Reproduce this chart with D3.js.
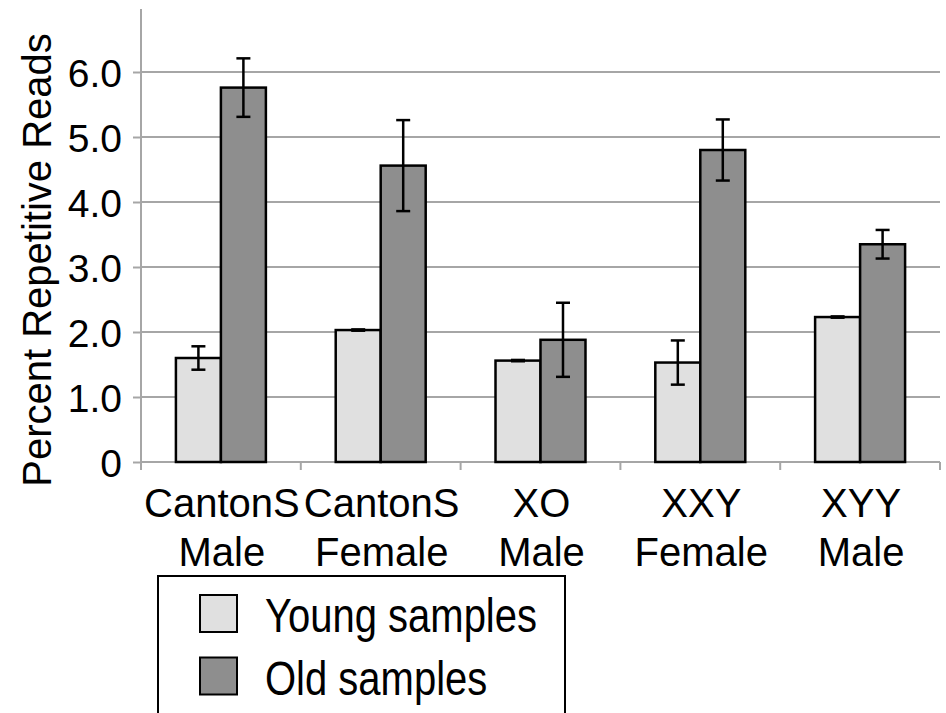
<!DOCTYPE html>
<html>
<head>
<meta charset="utf-8">
<script src="https://cdn.jsdelivr.net/npm/d3@7"></script>
<style>
  html, body { margin: 0; padding: 0; background: #fff; }
  svg { display: block; font-family: "Liberation Sans", Arial, Helvetica, sans-serif; }
</style>
</head>
<body>
<svg id="chart" width="946" height="713"></svg>
<script>
// ---- data ----
const categoryLine1 = ["CantonS", "CantonS", "XO", "XXY", "XYY"];
const categoryLine2 = ["Male", "Female", "Male", "Female", "Male"];
const seriesNames = ["Young samples", "Old samples"];
const youngValues = [1.60, 2.03, 1.56, 1.53, 2.23];
const youngErrors = [0.18, 0.01, 0.01, 0.34, 0.01];
const oldValues = [5.76, 4.56, 1.88, 4.80, 3.35];
const oldErrors = [0.45, 0.70, 0.57, 0.47, 0.22];
const yTickValues = [0, 1, 2, 3, 4, 5, 6];
const yTickLabels = ["0", "1.0", "2.0", "3.0", "4.0", "5.0", "6.0"];
const yTitle = "Percent Repetitive Reads";

// ---- styles ----
const colors = ["#e0e0e0", "#8e8e8e"];
const gridColor = "#a6a6a6";

const svg = d3.select("#chart");
const left = 141, right = 940, bottom = 462;

const x = d3.scaleBand().domain(d3.range(categoryLine1.length)).range([left, right]).paddingInner(0).paddingOuter(0);
const xs = d3.scaleBand().domain([0, 1]).range([0, x.bandwidth()]).paddingInner(0).paddingOuter(0.776);
const y = d3.scaleLinear().domain([0, 7]).range([bottom, 7]);

// y ticks + labels
const gAxis = svg.append("g").attr("transform", `translate(${left},0)`)
  .call(d3.axisLeft(y).tickValues(yTickValues).tickSize(8).tickFormat((d, i) => yTickLabels[i]).tickPadding(11));
gAxis.select(".domain").remove();
gAxis.selectAll(".tick line").attr("stroke", gridColor).attr("stroke-width", 2);
gAxis.selectAll(".tick text").attr("font-size", 39).attr("fill", "#000")
  .attr("font-family", "'Liberation Sans', Arial, sans-serif").attr("dy", "0.36em");

// gridlines
svg.append("g").selectAll("line").data(yTickValues).join("line")
  .attr("x1", left).attr("x2", right)
  .attr("y1", d => y(d)).attr("y2", d => y(d))
  .attr("stroke", gridColor).attr("stroke-width", 2);

// y axis line
svg.append("line").attr("x1", left).attr("x2", left).attr("y1", y(7) + 2).attr("y2", bottom + 7)
  .attr("stroke", gridColor).attr("stroke-width", 2);

// x axis category boundary ticks
const bounds = d3.range(categoryLine1.length + 1).map(i => i < categoryLine1.length ? x(i) : x(i - 1) + x.bandwidth());
svg.append("g").selectAll("line").data(bounds).join("line")
  .attr("x1", d => d).attr("x2", d => d).attr("y1", bottom).attr("y2", bottom + 8)
  .attr("stroke", gridColor).attr("stroke-width", 2);

// bars
const rows = categoryLine1.map((c, i) => [
  { i, s: 0, v: youngValues[i], e: youngErrors[i] },
  { i, s: 1, v: oldValues[i], e: oldErrors[i] }
]).flat();

svg.append("g").selectAll("rect").data(rows).join("rect")
  .attr("x", d => x(d.i) + xs(d.s))
  .attr("y", d => y(d.v))
  .attr("width", xs.bandwidth())
  .attr("height", d => y(0) - y(d.v))
  .attr("fill", d => colors[d.s])
  .attr("stroke", "#000").attr("stroke-width", 2.5);

// error bars
const eb = svg.append("g").attr("stroke", "#000").attr("stroke-width", 2.5);
const cap = 7;
rows.forEach(d => {
  const cx = x(d.i) + xs(d.s) + xs.bandwidth() / 2;
  const y1 = y(d.v + d.e), y2 = y(d.v - d.e);
  eb.append("line").attr("x1", cx).attr("x2", cx).attr("y1", y1).attr("y2", y2);
  eb.append("line").attr("x1", cx - cap).attr("x2", cx + cap).attr("y1", y1).attr("y2", y1);
  eb.append("line").attr("x1", cx - cap).attr("x2", cx + cap).attr("y1", y2).attr("y2", y2);
});

// x labels
const xl = svg.append("g").attr("font-size", 40).attr("text-anchor", "middle").attr("fill", "#000");
categoryLine1.forEach((c, i) => {
  const cx = x(i) + x.bandwidth() / 2 + 1;
  xl.append("text").attr("x", cx).attr("y", 517).text(c);
  xl.append("text").attr("x", cx).attr("y", 566).text(categoryLine2[i]);
});

// y title
svg.append("text").attr("transform", `translate(51,260) rotate(-90)`)
  .attr("text-anchor", "middle").attr("font-size", 40).attr("fill", "#000").text(yTitle);

// legend
const lg = svg.append("g");
lg.append("rect").attr("x", 158).attr("y", 576).attr("width", 407).attr("height", 160)
  .attr("fill", "#fff").attr("stroke", "#000").attr("stroke-width", 2);
seriesNames.forEach((n, i) => {
  const top = 595 + i * 62.5;
  lg.append("rect").attr("x", 200).attr("y", top).attr("width", 37).attr("height", 37)
    .attr("fill", colors[i]).attr("stroke", "#000").attr("stroke-width", 2);
  lg.append("text").attr("transform", `translate(265,${top + 37}) scale(1,1.2)`)
    .attr("font-size", 40).attr("fill", "#000").text(n);
});
</script>
</body>
</html>
